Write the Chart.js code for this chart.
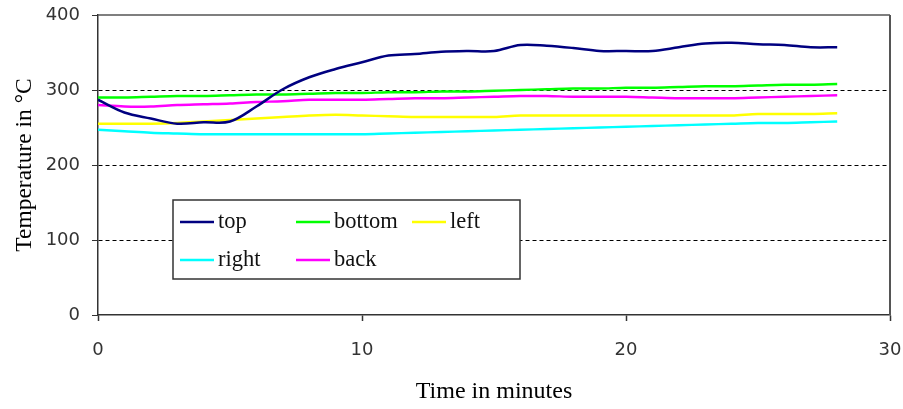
<!DOCTYPE html>
<html>
<head>
<meta charset="utf-8">
<title>Temperature over time</title>
<script src="https://cdn.jsdelivr.net/npm/chart.js@4/dist/chart.umd.min.js"></script>
<style>
  html, body { margin: 0; padding: 0; background: #fff; }
  #wrap { width: 903px; height: 409px; }
</style>
</head>
<body>
<div id="wrap"><canvas id="tempChart" width="903" height="409"></canvas></div>
<script>
// Readings, one per minute
const minutes = [0, 1, 2, 3, 4, 5, 6, 7, 8, 9, 10, 11, 12, 13, 14, 15, 16, 17, 18, 19, 20, 21, 22, 23, 24, 25, 26, 27, 28];
const topTemps    = [287, 270, 262, 255, 257, 258, 278, 301, 317, 328, 337, 346, 348, 351, 352, 352, 360, 359, 356, 352, 352, 352, 357, 362, 363, 361, 360, 357, 357];
const bottomTemps = [290, 290, 291, 292, 292, 293, 294, 294, 295, 296, 296, 297, 297, 298, 298, 299, 300, 301, 302, 302, 303, 303, 304, 305, 305, 306, 307, 307, 308];
const leftTemps   = [255, 255, 255, 256, 258, 260, 262, 264, 266, 267, 266, 265, 264, 264, 264, 264, 266, 266, 266, 266, 266, 266, 266, 266, 266, 268, 268, 268, 269];
const rightTemps  = [247, 245, 243, 242, 241, 241, 241, 241, 241, 241, 241, 242, 243, 244, 245, 246, 247, 248, 249, 250, 251, 252, 253, 254, 255, 256, 256, 257, 258];
const backTemps   = [280, 278, 278, 280, 281, 282, 284, 285, 287, 287, 287, 288, 289, 289, 290, 291, 292, 292, 291, 291, 291, 290, 289, 289, 289, 290, 291, 292, 293];

const seriesNames  = ['top', 'bottom', 'left', 'right', 'back'];
const seriesColors = ['#000080', '#00ff00', '#ffff00', '#00ffff', '#ff00ff'];
const seriesValues = [topTemps, bottomTemps, leftTemps, rightTemps, backTemps];

const xTicks = [0, 10, 20, 30];
const yTicks = [0, 100, 200, 300, 400];
const dashedLevels = [100, 200, 300];

const serif = "'Liberation Serif', 'Times New Roman', serif";
const sans = "'DejaVu Sans', sans-serif";

Chart.defaults.font.family = sans;
Chart.defaults.color = '#333';

function toPoints(values) {
    return values.map((v, i) => ({ x: minutes[i], y: v }));
}

// frame on the top and right of the plot area
const plotFrame = {
    id: 'plotFrame',
    beforeDatasetsDraw(chart) {
        const { ctx, chartArea: a } = chart;
        ctx.save();
        ctx.strokeStyle = '#555';
        ctx.lineWidth = 1.5;
        ctx.beginPath();
        ctx.moveTo(a.left, a.top);
        ctx.lineTo(a.right, a.top);
        ctx.stroke();
        ctx.lineWidth = 2;
        ctx.beginPath();
        ctx.moveTo(a.right, a.top);
        ctx.lineTo(a.right, a.bottom);
        ctx.stroke();
        ctx.restore();
    }
};

// boxed legend sitting inside the plot, two rows of three columns
const boxLegend = {
    id: 'boxLegend',
    afterDatasetsDraw(chart) {
        const { ctx } = chart;
        const box = { x: 173, y: 200, w: 347, h: 79 };
        const colX = [180, 296, 412];
        const rowY = [222, 260];
        ctx.save();
        ctx.fillStyle = '#fff';
        ctx.fillRect(box.x, box.y, box.w, box.h);
        ctx.strokeStyle = '#333';
        ctx.lineWidth = 1.5;
        ctx.strokeRect(box.x, box.y, box.w, box.h);
        ctx.font = '22.5px ' + serif;
        ctx.textBaseline = 'middle';
        ctx.textAlign = 'left';
        chart.data.datasets.forEach((ds, i) => {
            const x = colX[i % 3];
            const y = rowY[Math.floor(i / 3)];
            ctx.strokeStyle = ds.borderColor;
            ctx.lineWidth = 2.5;
            ctx.beginPath();
            ctx.moveTo(x, y);
            ctx.lineTo(x + 34, y);
            ctx.stroke();
            ctx.fillStyle = '#111';
            ctx.fillText(ds.label, x + 38, y);
        });
        ctx.restore();
    }
};

new Chart(document.getElementById('tempChart'), {
    type: 'line',
    data: {
        datasets: seriesNames.map((name, i) => ({
            label: name,
            data: toPoints(seriesValues[i]),
            borderColor: seriesColors[i],
            backgroundColor: seriesColors[i],
            borderWidth: 2.5,
            pointRadius: 0,
            tension: 0.35,
            fill: false
        }))
    },
    options: {
        responsive: false,
        animation: false,
        layout: { padding: { top: 15, right: 13, left: 0, bottom: 0 } },
        plugins: {
            legend: { display: false },
            tooltip: { enabled: false }
        },
        scales: {
            x: {
                type: 'linear',
                min: 0,
                max: 30,
                afterFit: scale => {
                    scale.height = 94;
                    scale.paddingLeft = 0;
                    scale.paddingRight = 0;
                },
                afterBuildTicks: scale => { scale.ticks = xTicks.map(v => ({ value: v })); },
                ticks: { font: { size: 18 }, padding: 19, color: '#333' },
                grid: { drawOnChartArea: false, tickLength: 6, tickColor: '#333', tickWidth: 1.5 },
                border: { color: '#333', width: 1.5 },
                title: {
                    display: true,
                    text: 'Time in minutes',
                    font: { family: serif, size: 24 },
                    color: '#000',
                    padding: { top: 0, bottom: 3 }
                }
            },
            y: {
                min: 0,
                max: 400,
                afterFit: scale => {
                    scale.width = 98;
                    scale.paddingTop = 0;
                    scale.paddingBottom = 0;
                },
                afterBuildTicks: scale => { scale.ticks = yTicks.map(v => ({ value: v })); },
                ticks: { font: { size: 18 }, padding: 12, color: '#333' },
                grid: {
                    color: c => dashedLevels.includes(c.tick && c.tick.value) ? '#000' : 'rgba(0,0,0,0)',
                    lineWidth: 1,
                    tickLength: 6,
                    tickColor: '#333',
                    tickBorderDash: []
                },
                border: { color: '#333', width: 1.5, dash: [4, 3] },
                title: {
                    display: true,
                    text: 'Temperature in °C',
                    font: { family: serif, size: 23.5 },
                    color: '#000',
                    padding: { top: 11, bottom: 0 }
                }
            }
        }
    },
    plugins: [plotFrame, boxLegend]
});
</script>
</body>
</html>
